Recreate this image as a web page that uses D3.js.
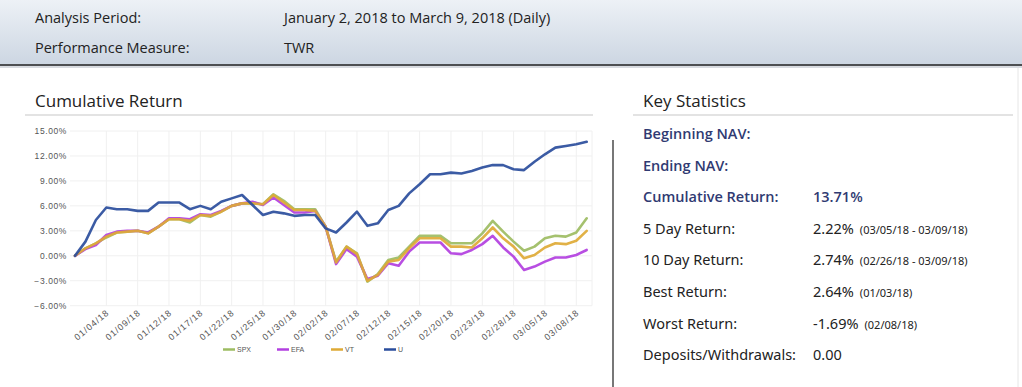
<!DOCTYPE html>
<html>
<head>
<meta charset="utf-8">
<script src="https://cdn.jsdelivr.net/npm/d3@7"></script>
<style>
  html, body { margin: 0; padding: 0; background: #fff; }
  svg { display: block; }
  .hdr { font-family: "Open Sans", sans-serif; font-size: 14.5px; fill: #222; }
  .ttl { font-family: "Open Sans", sans-serif; font-size: 17px; fill: #222; }
  .stat { font-family: "Noto Sans", sans-serif; font-size: 14.5px; fill: #222; }
  .stat.bold { font-family: "Open Sans", sans-serif; font-weight: 600; fill: #303a72; }
  .note { font-size: 11px; }
  .axis text { font-family: "Liberation Sans", sans-serif; font-size: 8.5px; fill: #555; letter-spacing: 0.6px; }
  .axis.x text { font-size: 9px; letter-spacing: 0.9px; }
  .legend text { font-family: "Liberation Sans", sans-serif; font-size: 7px; fill: #555; }
</style>
</head>
<body>
<div id="page"></div>
<script>
// trading calendar (weekdays incl. holidays), Jan 1 - Mar 9 2018
const dates = [
  "01/01/18", "01/02/18", "01/03/18", "01/04/18", "01/05/18",
  "01/08/18", "01/09/18", "01/10/18", "01/11/18", "01/12/18",
  "01/15/18", "01/16/18", "01/17/18", "01/18/18", "01/19/18",
  "01/22/18", "01/23/18", "01/24/18", "01/25/18", "01/26/18",
  "01/29/18", "01/30/18", "01/31/18", "02/01/18", "02/02/18",
  "02/05/18", "02/06/18", "02/07/18", "02/08/18", "02/09/18",
  "02/12/18", "02/13/18", "02/14/18", "02/15/18", "02/16/18",
  "02/19/18", "02/20/18", "02/21/18", "02/22/18", "02/23/18",
  "02/26/18", "02/27/18", "02/28/18", "03/01/18", "03/02/18",
  "03/05/18", "03/06/18", "03/07/18", "03/08/18", "03/09/18",
];

// cumulative return, %
const spx = [0, 0.9, 1.5, 2.2, 2.8, 2.9, 3.0, 2.7, 3.5, 4.4, 4.4, 4.0, 4.9, 4.7, 5.3, 6.0, 6.3, 6.3, 6.2, 7.4,
  6.6, 5.6, 5.6, 5.6, 3.5, -0.7, 1.1, 0.3, -3.1, -2.2, -0.5, -0.2, 1.1, 2.4, 2.4, 2.4, 1.5, 1.5, 1.5, 2.7,
  4.2, 2.9, 1.7, 0.6, 1.1, 2.1, 2.4, 2.3, 2.8, 4.5];
const efa = [0, 0.8, 1.3, 2.5, 2.9, 3.0, 3.0, 2.8, 3.5, 4.5, 4.5, 4.4, 5.0, 4.9, 5.4, 6.0, 6.3, 6.5, 6.1, 7.0,
  6.1, 5.2, 5.2, 5.4, 3.5, -1.0, 0.8, -0.1, -2.8, -2.4, -0.9, -1.2, 0.5, 1.6, 1.6, 1.6, 0.3, 0.2, 0.7, 1.4,
  2.4, 1.0, -0.1, -1.7, -1.3, -0.7, -0.2, -0.2, 0.1, 0.7];
const vt = [0, 0.9, 1.5, 2.3, 2.8, 2.9, 3.0, 2.7, 3.5, 4.4, 4.4, 4.2, 4.9, 4.8, 5.3, 6.0, 6.3, 6.3, 6.2, 7.3,
  6.4, 5.5, 5.5, 5.4, 3.5, -0.8, 1.1, 0.2, -3.0, -2.3, -0.7, -0.5, 0.9, 2.1, 2.1, 2.1, 1.1, 1.1, 1.0, 2.1,
  3.4, 2.1, 1.1, -0.3, 0.1, 1.0, 1.5, 1.4, 1.8, 3.0];
const u = [0, 1.7, 4.3, 5.8, 5.6, 5.6, 5.4, 5.4, 6.4, 6.4, 6.4, 5.6, 6.0, 5.6, 6.5, 6.9, 7.3, 6.1, 4.9, 5.3,
  5.1, 4.8, 4.9, 4.9, 3.3, 2.8, 4.0, 5.3, 3.6, 3.9, 5.5, 6.0, 7.5, 8.6, 9.8, 9.8, 10.0, 9.9, 10.2, 10.6,
  10.9, 10.9, 10.4, 10.3, 11.3, 12.2, 13.0, 13.2, 13.4, 13.71];

const seriesNames = ["SPX", "EFA", "VT", "U"];
const seriesColors = ["#9dbc62", "#b23fe0", "#deaa36", "#2a4d9c"];

const tickLabels = ["01/04/18", "01/09/18", "01/12/18", "01/17/18", "01/22/18", "01/25/18", "01/30/18", "02/02/18",
  "02/07/18", "02/12/18", "02/15/18", "02/20/18", "02/23/18", "02/28/18", "03/05/18", "03/08/18"];
const yTicks = [-6, -3, 0, 3, 6, 9, 12, 15];

const headerLabels = ["Analysis Period:", "Performance Measure:"];
const headerValues = ["January 2, 2018 to March 9, 2018 (Daily)", "TWR"];

const statLabels = ["Beginning NAV:", "Ending NAV:", "Cumulative Return:", "5 Day Return:", "10 Day Return:",
  "Best Return:", "Worst Return:", "Deposits/Withdrawals:"];
const statValues = ["", "", "13.71%", "2.22%", "2.74%", "2.64%", "-1.69%", "0.00"];
const statNotes = ["", "", "", "(03/05/18 - 03/09/18)", "(02/26/18 - 03/09/18)", "(01/03/18)", "(02/08/18)", ""];
const statBold = [true, true, true, false, false, false, false, false];

const width = 1022, height = 387;
const svg = d3.select("#page").append("svg").attr("width", width).attr("height", height);

// header band
const grad = svg.append("defs").append("linearGradient")
  .attr("id", "hdrGrad").attr("x1", 0).attr("x2", 0).attr("y1", 0).attr("y2", 1);
grad.append("stop").attr("offset", "0%").attr("stop-color", "#edf1f6");
grad.append("stop").attr("offset", "100%").attr("stop-color", "#ccd6e2");
svg.append("rect").attr("width", width).attr("height", 65).attr("fill", "url(#hdrGrad)");
svg.append("rect").attr("y", 64).attr("width", width).attr("height", 2).attr("fill", "#4d4f52");
svg.append("rect").attr("y", 66).attr("width", width).attr("height", 2).attr("fill", "#d8dbe0");

headerLabels.forEach((d, i) => {
  svg.append("text").attr("class", "hdr").attr("x", 35).attr("y", 23 + i * 30).text(d);
  svg.append("text").attr("class", "hdr").attr("x", 284).attr("y", 23 + i * 30).text(headerValues[i]);
});

// section titles
svg.append("text").attr("class", "ttl").attr("x", 35).attr("y", 107).text("Cumulative Return");
svg.append("text").attr("class", "ttl").attr("x", 643).attr("y", 107).text("Key Statistics");
svg.append("line").attr("x1", 25).attr("x2", 593).attr("y1", 115).attr("y2", 115)
  .attr("stroke", "#e3e3e3").attr("stroke-width", 2);
svg.append("line").attr("x1", 633).attr("x2", 1013).attr("y1", 115).attr("y2", 115)
  .attr("stroke", "#e3e3e3").attr("stroke-width", 2);
svg.append("line").attr("x1", 613).attr("x2", 613).attr("y1", 140).attr("y2", height)
  .attr("stroke", "#777").attr("stroke-width", 2);
svg.append("line").attr("x1", 1018).attr("x2", 1018).attr("y1", 68).attr("y2", height)
  .attr("stroke", "#e6e6e6").attr("stroke-width", 1);

// chart
const x = d3.scalePoint().domain(dates).range([75, 586.7]);
const y = d3.scaleLinear().domain([-6, 15]).range([305.7, 131]);
const plotRight = 592;

const gGrid = svg.append("g");
gGrid.selectAll(".hgrid").data(yTicks).join("line")
  .attr("x1", 70).attr("x2", plotRight)
  .attr("y1", (d) => y(d)).attr("y2", (d) => y(d))
  .attr("stroke", "#f0f0f0").attr("stroke-width", 1);
gGrid.selectAll(".vgrid").data(tickLabels).join("line")
  .attr("x1", (d) => x(d)).attr("x2", (d) => x(d))
  .attr("y1", y(15)).attr("y2", y(-6))
  .attr("stroke", "#f0f0f0").attr("stroke-width", 1);
gGrid.append("line").attr("x1", plotRight).attr("x2", plotRight)
  .attr("y1", y(15)).attr("y2", y(-6)).attr("stroke", "#f0f0f0");

const gY = svg.append("g").attr("class", "axis")
  .attr("transform", "translate(67,0)")
  .call(d3.axisLeft(y).tickValues(yTicks).tickSize(0).tickPadding(0)
    .tickFormat((d) => d3.format(".2f")(d) + "%"));
gY.select(".domain").remove();
gY.selectAll("text").attr("dy", "0.34em");

const gX = svg.append("g").attr("class", "axis x")
  .attr("transform", `translate(0,${y(-6)})`)
  .call(d3.axisBottom(x).tickValues(tickLabels).tickSize(0).tickPadding(0));
gX.select(".domain").remove();
gX.selectAll("text")
  .attr("text-anchor", "end")
  .attr("dy", 0)
  .attr("transform", "translate(3,8) rotate(-40)");

const seriesData = [spx, efa, vt, u];
const line = d3.line()
  .x((d, i) => x(dates[i]))
  .y((d) => y(d));

svg.append("g").selectAll("path").data(seriesData).join("path")
  .attr("d", line)
  .attr("fill", "none")
  .attr("stroke", (d, i) => seriesColors[i])
  .attr("stroke-width", 2.6)
  .attr("stroke-linejoin", "round")
  .attr("stroke-linecap", "round")
  .attr("opacity", 0.92);

// legend
const legendX = [223, 277, 331, 384];
const legend = svg.append("g").attr("class", "legend").selectAll("g").data(seriesNames).join("g")
  .attr("transform", (d, i) => `translate(${legendX[i]},349.5)`);
legend.append("line").attr("x1", 0).attr("x2", 12)
  .attr("stroke", (d, i) => seriesColors[i]).attr("stroke-width", 2.5);
legend.append("text").attr("x", 14).attr("dy", "0.35em").text((d) => d);

// key statistics
const rowY = (i) => 139 + i * 31.6;
statLabels.forEach((d, i) => {
  svg.append("text").attr("class", statBold[i] ? "stat bold" : "stat")
    .attr("x", 643).attr("y", rowY(i)).text(d);
  const t = svg.append("text").attr("class", statBold[i] ? "stat bold" : "stat")
    .attr("x", 813).attr("y", rowY(i));
  t.append("tspan").text(statValues[i]);
  if (statNotes[i]) t.append("tspan").attr("class", "note").attr("dx", 6).text(statNotes[i]);
});
</script>
</body>
</html>
